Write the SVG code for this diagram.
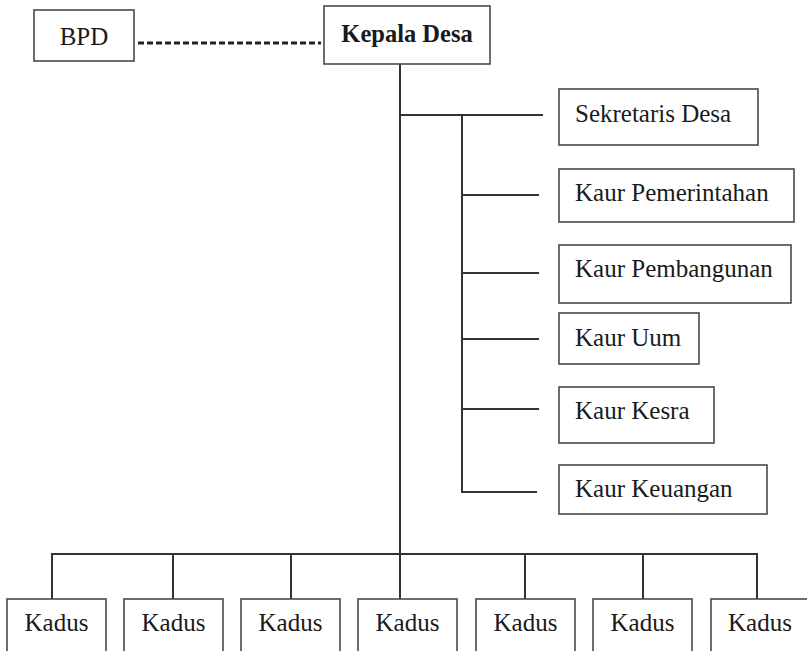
<svg xmlns="http://www.w3.org/2000/svg" width="807" height="651" viewBox="0 0 807 651">
<style>
.box{fill:#fff;stroke:#4a4a4a;stroke-width:1.6}
.t{font-family:'Liberation Serif','Times New Roman','DejaVu Serif',serif;font-size:25px;fill:#1a1a1a}
.b{font-weight:bold;font-size:24.5px}
.c{text-anchor:middle}
.ln{stroke:#333;stroke-width:2;fill:none}
.dash{stroke:#222;stroke-width:3;stroke-dasharray:6 3;fill:none}
</style>
<rect width="807" height="651" fill="#fff"/>
<g id="connectors">
<line class="dash" x1="138" y1="43" x2="321" y2="43"/>
<line class="ln" x1="400" y1="64" x2="400" y2="599"/>
<line class="ln" x1="399" y1="115" x2="543" y2="115"/>
<line class="ln" x1="462" y1="115" x2="462" y2="492"/>
<line class="ln" x1="462" y1="195" x2="539" y2="195"/>
<line class="ln" x1="462" y1="273" x2="539" y2="273"/>
<line class="ln" x1="462" y1="339" x2="539" y2="339"/>
<line class="ln" x1="462" y1="409" x2="539" y2="409"/>
<line class="ln" x1="461" y1="492" x2="537" y2="492"/>
<line class="ln" x1="52" y1="554" x2="757" y2="554"/>
<line class="ln" x1="52" y1="553" x2="52" y2="599"/>
<line class="ln" x1="173" y1="554" x2="173" y2="599"/>
<line class="ln" x1="291" y1="554" x2="291" y2="599"/>
<line class="ln" x1="525" y1="554" x2="525" y2="599"/>
<line class="ln" x1="643" y1="554" x2="643" y2="599"/>
<line class="ln" x1="757" y1="553" x2="757" y2="599"/>
</g>
<g id="bpd"><rect class="box" x="34" y="10" width="100" height="51"/><text class="t c" x="84" y="45" font-family="Liberation Serif, serif">BPD</text></g>
<g id="kepala"><rect class="box" x="324" y="6" width="166" height="58"/><text class="t b c" x="407" y="42" font-family="Liberation Serif, serif">Kepala Desa</text></g>
<g id="sekretaris"><rect class="box" x="559" y="89" width="199" height="56"/><text class="t" x="575" y="122" font-family="Liberation Serif, serif">Sekretaris Desa</text></g>
<g id="pemerintahan"><rect class="box" x="559" y="169" width="235" height="53"/><text class="t" x="575" y="201" font-family="Liberation Serif, serif">Kaur Pemerintahan</text></g>
<g id="pembangunan"><rect class="box" x="559" y="245" width="232" height="58"/><text class="t" x="575" y="277" font-family="Liberation Serif, serif">Kaur Pembangunan</text></g>
<g id="uum"><rect class="box" x="559" y="313" width="140" height="51"/><text class="t" x="575" y="346" font-family="Liberation Serif, serif">Kaur Uum</text></g>
<g id="kesra"><rect class="box" x="559" y="387" width="155" height="56"/><text class="t" x="575" y="419" font-family="Liberation Serif, serif">Kaur Kesra</text></g>
<g id="keuangan"><rect class="box" x="559" y="465" width="208" height="49"/><text class="t" x="575" y="497" font-family="Liberation Serif, serif">Kaur Keuangan</text></g>
<g id="kadus1"><rect class="box" x="7" y="599" width="99" height="60"/><text class="t c" x="56.5" y="631" font-family="Liberation Serif, serif">Kadus</text></g>
<g id="kadus2"><rect class="box" x="124" y="599" width="99" height="60"/><text class="t c" x="173.5" y="631" font-family="Liberation Serif, serif">Kadus</text></g>
<g id="kadus3"><rect class="box" x="241" y="599" width="99" height="60"/><text class="t c" x="290.5" y="631" font-family="Liberation Serif, serif">Kadus</text></g>
<g id="kadus4"><rect class="box" x="358" y="599" width="99" height="60"/><text class="t c" x="407.5" y="631" font-family="Liberation Serif, serif">Kadus</text></g>
<g id="kadus5"><rect class="box" x="476" y="599" width="99" height="60"/><text class="t c" x="525.5" y="631" font-family="Liberation Serif, serif">Kadus</text></g>
<g id="kadus6"><rect class="box" x="593" y="599" width="99" height="60"/><text class="t c" x="642.5" y="631" font-family="Liberation Serif, serif">Kadus</text></g>
<g id="kadus7"><rect class="box" x="711" y="599" width="99" height="60"/><text class="t c" x="760" y="631" font-family="Liberation Serif, serif">Kadus</text></g>
</svg>
